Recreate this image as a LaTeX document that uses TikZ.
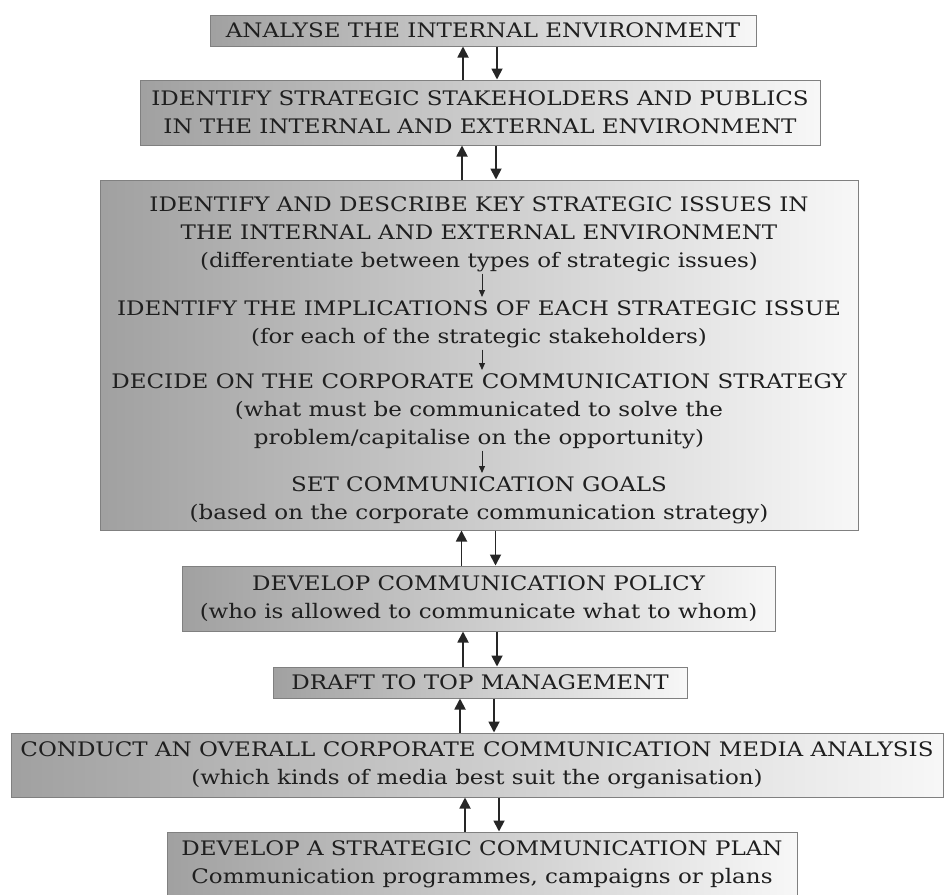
\documentclass[tikz,border=0pt]{standalone}
\usepackage{fontspec}
\setmainfont{DejaVu Serif}[FakeStretch=1.15]
\usetikzlibrary{arrows.meta,positioning,calc}
\newcommand{\boxfont}{\fontsize{20}{28}\selectfont}
\tikzset{flow layout/.style={%
    y=-1pt,
    x=1pt,
    every node/.style={%
        text=black!88, font=\boxfont, inner sep=0pt, align=center
    }
}}
\tikzset{stage/.style={%
    draw=black!50, line width=1pt, left color=black!37, right color=black!3
}}
\tikzset{link/.style={%
    black!85, line width=1.8pt, -{Triangle[width=11pt,length=11pt]}
}}
\tikzset{sublink/.style={%
    black!85, line width=1pt, shorten <=2pt, shorten >=3pt, -{Triangle[width=6pt,length=7pt]}
}}

\begin{document}
\begin{tikzpicture}[flow layout]
    \useasboundingbox (0,0) rectangle (944,894);

    % outer boxes
    \node[stage, minimum width=546, minimum height=31] (b1) at (483,30.5)
        {ANALYSE THE INTERNAL ENVIRONMENT};
    \node[stage, minimum width=680, minimum height=65] (b2) at (480,112.5)
        {IDENTIFY STRATEGIC STAKEHOLDERS AND PUBLICS\\IN THE INTERNAL AND EXTERNAL ENVIRONMENT};
    \node[stage, minimum width=758, minimum height=350] (b3) at (479,355) {};
    \node[stage, minimum width=593, minimum height=65] (b4) at (478.5,598.5)
        {DEVELOP COMMUNICATION POLICY\\(who is allowed to communicate what to whom)};
    \node[stage, minimum width=414, minimum height=31] (b5) at (480,682.5)
        {DRAFT TO TOP MANAGEMENT};
    \node[stage, minimum width=932, minimum height=64] (b6) at (477,765)
        {CONDUCT AN OVERALL CORPORATE COMMUNICATION MEDIA ANALYSIS\\(which kinds of media best suit the organisation)};
    \node[stage, minimum width=630, minimum height=64] (b7) at (482,864)
        {DEVELOP A STRATEGIC COMMUNICATION PLAN\\Communication programmes, campaigns or plans};

    % steps inside the big box
    \node[anchor=north] (s1) at (479,196)
        {IDENTIFY AND DESCRIBE KEY STRATEGIC ISSUES IN\\THE INTERNAL AND EXTERNAL ENVIRONMENT\\(differentiate between types of strategic issues)};
    \node[anchor=north] (s2) at (479,300)
        {IDENTIFY THE IMPLICATIONS OF EACH STRATEGIC ISSUE\\(for each of the strategic stakeholders)};
    \node[anchor=north] (s3) at (479,373)
        {DECIDE ON THE CORPORATE COMMUNICATION STRATEGY\\(what must be communicated to solve the\\problem/capitalise on the opportunity)};
    \node[anchor=north] (s4) at (479,476)
        {SET COMMUNICATION GOALS\\(based on the corporate communication strategy)};

    \foreach \a/\b in {s1/s2,s2/s3,s3/s4} {
        \draw[sublink] ([xshift=3pt]\a.south) -- ([xshift=3pt]\b.north);
    }

    % two way links between the boxes
    \foreach \a/\b in {b1/b2,b2/b3,b3/b4,b4/b5,b5/b6,b6/b7} {
        \draw[link] ([xshift=-17pt]\b.north) -- ([xshift=-17pt]\b.north |- \a.south);
        \draw[link] ([xshift=17pt]\b.north |- \a.south) -- ([xshift=17pt]\b.north);
    }
\end{tikzpicture}
\end{document}
